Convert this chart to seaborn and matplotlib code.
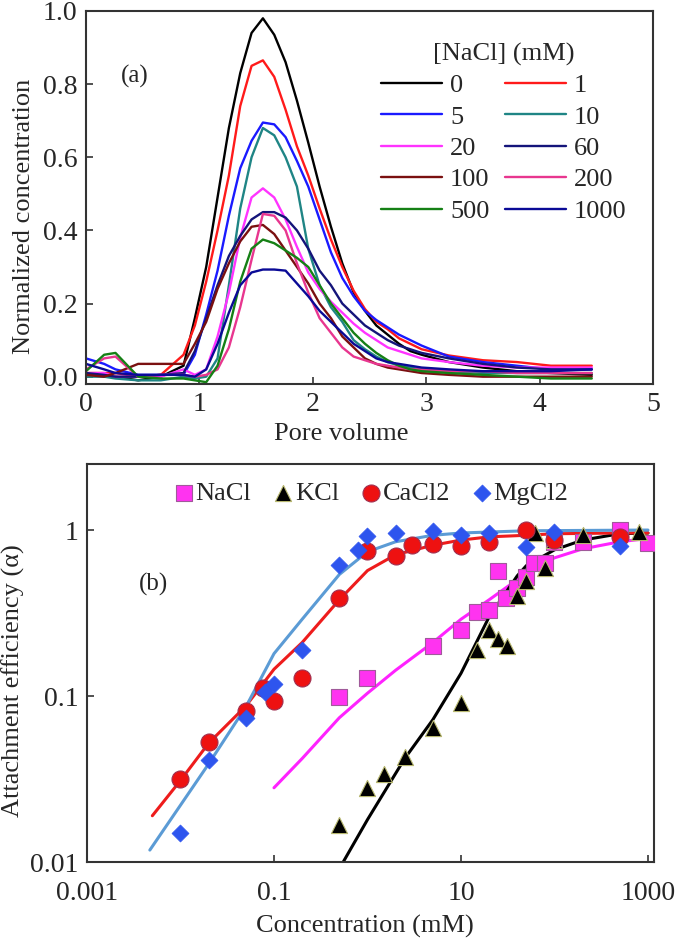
import numpy as np
import pandas as pd
import matplotlib
matplotlib.use("Agg")
import matplotlib.pyplot as plt
import seaborn as sns
from matplotlib.lines import Line2D
from matplotlib.ticker import FixedLocator, FixedFormatter, NullLocator

sns.set_theme(style="white")
plt.rcParams['font.family'] = ['Liberation Serif', 'DejaVu Serif']

# ---------------- Panel (a) data ----------------
pore_volume = [0.0, 0.16, 0.26, 0.46, 0.66, 0.86, 0.96, 1.06, 1.16, 1.26, 1.36, 1.46,
               1.56, 1.66, 1.76, 1.86, 1.96, 2.06, 2.16, 2.26, 2.36, 2.46, 2.56, 2.66,
               2.76, 2.86, 2.96, 3.2, 3.5, 3.8, 4.1, 4.46]

c_0 = [0.01, 0.0, 0.0, -0.01, 0.0, 0.03, 0.16, 0.30, 0.49, 0.68, 0.83, 0.94,
       0.98, 0.935, 0.86, 0.755, 0.64, 0.52, 0.41, 0.31, 0.23, 0.18, 0.14, 0.115,
       0.09, 0.07, 0.06, 0.04, 0.025, 0.015, 0.01, 0.005]
c_1 = [0.01, 0.01, 0.01, 0.0, 0.005, 0.06, 0.14, 0.26, 0.40, 0.55, 0.74, 0.85,
       0.865, 0.82, 0.73, 0.63, 0.55, 0.46, 0.375, 0.30, 0.235, 0.185, 0.15, 0.13,
       0.105, 0.09, 0.075, 0.058, 0.045, 0.04, 0.03, 0.03]
c_5 = [0.05, 0.035, 0.02, 0.005, 0.005, 0.005, 0.06, 0.17, 0.29, 0.44, 0.57, 0.645,
       0.695, 0.69, 0.655, 0.59, 0.52, 0.43, 0.34, 0.27, 0.22, 0.18, 0.155, 0.135,
       0.115, 0.10, 0.085, 0.055, 0.04, 0.03, 0.02, 0.02]
c_10 = [0.0, 0.0, -0.005, -0.01, -0.01, 0.0, -0.005, 0.0, 0.05, 0.25, 0.46, 0.60,
        0.68, 0.66, 0.60, 0.52, 0.35, 0.25, 0.19, 0.15, 0.10, 0.075, 0.055, 0.04,
        0.03, 0.025, 0.02, 0.015, 0.01, 0.01, 0.01, 0.01]
c_20 = [0.01, 0.01, 0.0, 0.0, 0.0, 0.02, 0.005, 0.02, 0.11, 0.23, 0.38, 0.49,
        0.515, 0.49, 0.43, 0.355, 0.285, 0.24, 0.205, 0.175, 0.145, 0.12, 0.10, 0.08,
        0.07, 0.06, 0.05, 0.04, 0.03, 0.025, 0.025, 0.025]
c_60 = [0.01, 0.005, 0.0, 0.0, 0.005, 0.01, 0.07, 0.16, 0.25, 0.33, 0.385, 0.43,
        0.45, 0.45, 0.435, 0.40, 0.35, 0.29, 0.25, 0.20, 0.17, 0.14, 0.12, 0.10,
        0.085, 0.075, 0.065, 0.05, 0.035, 0.025, 0.02, 0.02]
c_100 = [0.005, 0.0, 0.01, 0.035, 0.035, 0.035, 0.09, 0.15, 0.24, 0.31, 0.37, 0.41,
         0.415, 0.39, 0.345, 0.30, 0.255, 0.20, 0.16, 0.11, 0.08, 0.05, 0.035, 0.025,
         0.02, 0.015, 0.01, 0.005, 0.0, 0.0, 0.0, 0.0]
c_200 = [0.02, 0.05, 0.055, 0.0, 0.005, 0.005, 0.0, 0.005, 0.02, 0.08, 0.19, 0.32,
         0.445, 0.44, 0.40, 0.31, 0.23, 0.16, 0.12, 0.08, 0.055, 0.045, 0.035, 0.03,
         0.025, 0.02, 0.02, 0.015, 0.015, 0.01, 0.01, 0.01]
c_500 = [0.015, 0.06, 0.065, 0.0, -0.005, -0.005, -0.01, -0.015, 0.03, 0.13, 0.26, 0.35,
         0.375, 0.365, 0.345, 0.325, 0.30, 0.25, 0.20, 0.16, 0.12, 0.09, 0.065, 0.045,
         0.03, 0.02, 0.015, 0.01, 0.005, 0.0, -0.005, -0.005]
c_1000 = [0.035, 0.02, 0.01, 0.005, 0.005, 0.005, 0.0, 0.02, 0.09, 0.175, 0.25, 0.285,
          0.293, 0.293, 0.29, 0.255, 0.22, 0.18, 0.15, 0.12, 0.09, 0.07, 0.05, 0.04,
          0.035, 0.03, 0.025, 0.02, 0.015, 0.015, 0.015, 0.02]

nacl_labels = ['0', '1', '5', '10', '20', '60', '100', '200', '500', '1000']
nacl_series = [c_0, c_1, c_5, c_10, c_20, c_60, c_100, c_200, c_500, c_1000]
nacl_colors = ['#000000', '#ff1a1a', '#1a1aff', '#1f8585', '#ff33ff',
               '#14147a', '#7a1010', '#e8368f', '#158015', '#0a0a96']

# ---------------- Panel (b) data ----------------
nacl_x = [0.5, 1, 5, 10, 15, 20, 25, 30, 40, 50, 60, 80, 100, 200, 500, 1000]
nacl_y = [0.098, 0.128, 0.20, 0.25, 0.32, 0.33, 0.57, 0.39, 0.45, 0.52, 0.63, 0.63, 0.85, 0.85, 1.0, 0.83]
kcl_x = [0.5, 1, 1.5, 2.5, 5, 10, 15, 20, 25, 31, 40, 50, 62, 80, 100, 200, 800]
kcl_y = [0.0167, 0.028, 0.034, 0.043, 0.064, 0.091, 0.19, 0.25, 0.22, 0.20, 0.40, 0.49, 0.96, 0.59, 0.87, 0.93, 0.97]
cacl2_x = [0.01, 0.02, 0.05, 0.076, 0.1, 0.2, 0.5, 1, 2, 3, 5, 10, 20, 50, 100, 500]
cacl2_y = [0.0316, 0.053, 0.081, 0.112, 0.093, 0.128, 0.39, 0.75, 0.70, 0.81, 0.82, 0.80, 0.85, 1.0, 0.87, 0.91]
mgcl2_x = [0.01, 0.02, 0.05, 0.08, 0.1, 0.2, 0.5, 0.8, 1, 2, 5, 10, 20, 50, 100, 500]
mgcl2_y = [0.015, 0.041, 0.074, 0.106, 0.118, 0.19, 0.62, 0.76, 0.92, 0.96, 0.99, 0.93, 0.96, 0.79, 0.97, 0.80]

fit_nacl_x = [0.1, 0.2, 0.5, 1, 2, 5, 10, 20, 50, 100, 200, 500, 1000]
fit_nacl_y = [0.028, 0.042, 0.074, 0.104, 0.143, 0.21, 0.29, 0.38, 0.55, 0.68, 0.77, 0.85, 0.89]
fit_kcl_x = [0.55, 1, 2.5, 5, 10, 20, 40, 50, 100, 200, 500, 1000]
fit_kcl_y = [0.01, 0.018, 0.042, 0.072, 0.137, 0.30, 0.53, 0.61, 0.76, 0.87, 0.95, 0.96]
fit_cacl2_x = [0.005, 0.01, 0.02, 0.05, 0.1, 0.2, 0.5, 1, 2, 5, 10, 20, 50, 100, 500, 1000]
fit_cacl2_y = [0.019, 0.031, 0.052, 0.087, 0.145, 0.21, 0.38, 0.57, 0.71, 0.81, 0.87, 0.91, 0.93, 0.95, 0.96, 0.96]
fit_mgcl2_x = [0.0047, 0.01, 0.02, 0.05, 0.1, 0.2, 0.5, 1, 2, 5, 10, 50, 1000]
fit_mgcl2_y = [0.0118, 0.022, 0.039, 0.086, 0.18, 0.29, 0.54, 0.74, 0.85, 0.93, 0.96, 0.99, 1.0]

TICK_FS = 20
LAB_FS = 19
LEG_FS = 19

fig = plt.figure(figsize=(6.75, 9.39), dpi=100)
ax1 = fig.add_axes([86/675, 1-384/939, 567/675, 373/939])
ax2 = fig.add_axes([87/675, 1-862/939, 567/675, 398/939])

# ---------- panel (a) ----------
rows = []
for lab, ser in zip(nacl_labels, nacl_series):
    for pv, c in zip(pore_volume, ser):
        rows.append((lab, pv, c))
df_a = pd.DataFrame(rows, columns=['nacl', 'pv', 'conc'])
sns.lineplot(data=df_a, x='pv', y='conc', hue='nacl', hue_order=nacl_labels,
             palette=dict(zip(nacl_labels, nacl_colors)), sort=False, estimator=None,
             lw=1.7, legend=False, ax=ax1)
ax1.set_xlim(0, 5)
ax1.set_ylim(-0.02, 1.0)
ax1.set_xticks([0, 1, 2, 3, 4, 5])
ax1.set_xticklabels(['0', '1', '2', '3', '4', '5'])
ax1.set_yticks([0.0, 0.2, 0.4, 0.6, 0.8, 1.0])
ax1.set_yticklabels(['0.0', '0.2', '0.4', '0.6', '0.8', '1.0'])
ax1.set_xlabel('Pore volume', fontsize=LAB_FS)
ax1.set_ylabel('Normalized concentration', fontsize=LAB_FS)
ax1.xaxis.set_label_coords(0.45, -0.105)
ax1.yaxis.set_label_coords(-0.09, 0.45)
ax1.text(0.43, 0.82, '(a)', fontsize=18, ha='center', va='center')

order = [0, 2, 4, 6, 8, 1, 3, 5, 7, 9]
handles = [Line2D([0], [0], color=nacl_colors[i], lw=1.7) for i in order]
labels = [nacl_labels[i] for i in order]
leg = ax1.legend(handles, labels, ncol=2, title='[NaCl] (mM)', fontsize=LEG_FS,
                 title_fontsize=LEG_FS, frameon=False, loc='upper left',
                 bbox_to_anchor=(0.521, 0.915), borderpad=0, borderaxespad=0,
                 handlelength=2.3, handletextpad=0.3, columnspacing=0.6,
                 labelspacing=0.3)

# ---------- panel (b) ----------
ax2.set_xscale('log')
ax2.set_yscale('log')
for fx, fy, col in [(fit_nacl_x, fit_nacl_y, '#ff22ff'), (fit_kcl_x, fit_kcl_y, '#000000'),
                    (fit_cacl2_x, fit_cacl2_y, '#ee1c1c'), (fit_mgcl2_x, fit_mgcl2_y, '#5b9bd5')]:
    sns.lineplot(x=fx, y=fy, color=col, lw=2.2, sort=False, estimator=None, ax=ax2)

sns.scatterplot(x=nacl_x, y=nacl_y, marker='s', s=130, color='#ff33f0',
                edgecolor='#a05a9a', linewidth=0.8, ax=ax2, label='NaCl', zorder=3)
sns.scatterplot(x=kcl_x, y=kcl_y, marker='^', s=135, color='#000000',
                edgecolor='#b8b870', linewidth=0.8, ax=ax2, label='KCl', zorder=4)
sns.scatterplot(x=cacl2_x, y=cacl2_y, marker='o', s=150, color='#ee1111',
                edgecolor='#a03050', linewidth=0.8, ax=ax2, label='CaCl2', zorder=5)
sns.scatterplot(x=mgcl2_x, y=mgcl2_y, marker='D', s=75, color='#2e55ee',
                edgecolor='#2e55ee', linewidth=0.5, ax=ax2, label='MgCl2', zorder=6)

ax2.set_xlim(0.001, 1160)
ax2.set_ylim(0.01, 2.5)
ax2.xaxis.set_major_locator(FixedLocator([0.001, 0.1, 10, 1000]))
ax2.xaxis.set_major_formatter(FixedFormatter(['0.001', '0.1', '10', '1000']))
ax2.xaxis.set_minor_locator(NullLocator())
ax2.yaxis.set_major_locator(FixedLocator([0.01, 0.1, 1]))
ax2.yaxis.set_major_formatter(FixedFormatter(['0.01', '0.1', '1']))
ax2.yaxis.set_minor_locator(NullLocator())
ax2.set_xlabel('Concentration (mM)', fontsize=LAB_FS)
ax2.set_ylabel('Attachment efficiency (\u03b1)', fontsize=LAB_FS)
ax2.xaxis.set_label_coords(0.49, -0.133)
ax2.yaxis.set_label_coords(-0.109, 0.455)
ax2.text(0.0051, 0.47, '(b)', fontsize=18, ha='center', va='center')
ax2.legend(loc='center', bbox_to_anchor=(0.503, 0.927), ncol=4, frameon=False,
           fontsize=LEG_FS, handlelength=0.6, handletextpad=0.15, columnspacing=0.9,
           borderpad=0, borderaxespad=0, scatterpoints=1)

for ax in (ax1, ax2):
    ax.tick_params(axis='both', which='major', direction='in', length=5, width=1.2,
                   labelsize=TICK_FS, pad=6, color='#333333', bottom=True, left=True,
                   top=False, right=False)
    for sp in ax.spines.values():
        sp.set_color('#333333')
        sp.set_linewidth(1.5)
    ax.grid(False)
ax2.tick_params(axis='x', pad=14)

fig.savefig('out.png', dpi=100)
